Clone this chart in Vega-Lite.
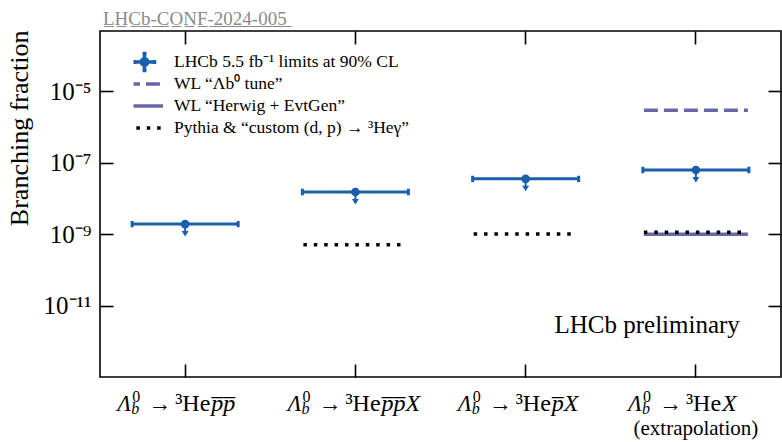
{
  "$schema": "https://vega.github.io/schema/vega-lite/v6.json",
  "width": 681,
  "height": 346,
  "autosize": "none",
  "padding": {"left": 100, "top": 31, "right": 1, "bottom": 65},
  "background": "white",
  "config": {
    "view": {"stroke": "black", "strokeWidth": 1.6},
    "font": "Liberation Serif",
    "axis": {"grid": false, "domain": false, "tickColor": "black", "tickWidth": 1.6, "tickSize": -13, "labelColor": "black", "labelFont": "Liberation Serif", "titleFont": "Liberation Serif", "titleColor": "black"}
  },
  "title": {
    "text": "L\u0332H\u0332C\u0332b\u0332-\u0332C\u0332O\u0332N\u0332F\u0332-\u03322\u03320\u03322\u03324\u0332-\u03320\u03320\u03325\u0332",
    "anchor": "start", "frame": "group", "fontSize": 19, "fontWeight": "normal",
    "color": "#8a8a8a", "font": "Liberation Serif", "offset": 7, "baseline": "alphabetic", "dx": 3, "dy": 21
  },
  "datasets": {
    "limits": [
      {"cat": "p\u0305p\u0305", "line2": "", "limit": 1.9e-9},
      {"cat": "p\u0305p\u0305X", "line2": "", "limit": 1.5e-8},
      {"cat": "p\u0305X", "line2": "", "limit": 3.5e-8},
      {"cat": "X", "line2": "(extrapolation)", "limit": 6.2e-8}
    ],
    "models": [
      {"cat": "p\u0305p\u0305X", "series": "Pythia & “custom (d, p) → ³Heγ”", "value": 5e-10},
      {"cat": "p\u0305X", "series": "Pythia & “custom (d, p) → ³Heγ”", "value": 1e-9},
      {"cat": "X", "series": "WL “Herwig + EvtGen”", "value": 9.8e-10},
      {"cat": "X", "series": "Pythia & “custom (d, p) → ³Heγ”", "value": 1.13e-9},
      {"cat": "X", "series": "WL “Λb⁰ tune”", "value": 2.9e-6}
    ]
  },
  "data": {"name": "limits"},
  "resolve": {"axis": {"x": "independent", "y": "independent"}},
  "layer": [
    {
      "data": {"name": "models"},
      "mark": {"type": "point", "filled": false, "size": 2548, "strokeWidth": 3.5, "strokeCap": "butt", "opacity": 1},
      "encoding": {
        "x": {"field": "cat", "type": "nominal", "sort": null,
              "scale": {"type": "band", "domain": ["p\u0305p\u0305", "p\u0305p\u0305X", "p\u0305X", "X"], "paddingInner": 0, "paddingOuter": 0},
              "axis": {"orient": "bottom", "labels": false, "title": null}},
        "y": {"field": "value", "type": "quantitative",
              "scale": {"type": "log", "domain": [1e-13, 4.8e-4], "nice": false},
              "axis": {"orient": "left", "values": [1e-5, 1e-7, 1e-9, 1e-11], "labelFontSize": 25, "labelPadding": 22,
                       "labelExpr": "datum.value > 5e-6 ? '10⁻⁵' : datum.value > 5e-8 ? '10⁻⁷' : datum.value > 5e-10 ? '10⁻⁹' : '10⁻¹¹'",
                       "title": "Branching fraction", "titleFontSize": 26, "titleFontWeight": "normal",
                       "titleX": -81, "titleY": -1, "titleAlign": "right", "titleBaseline": "middle", "titleAngle": -90}},
        "stroke": {"field": "series", "type": "nominal",
                   "scale": {"domain": ["LHCb 5.5 fb⁻¹ limits at 90% CL", "WL “Λb⁰ tune”", "WL “Herwig + EvtGen”", "Pythia & “custom (d, p) → ³Heγ”"],
                             "range": ["#1a5fad", "#6667a7", "#6667a7", "#000000"]},
                   "legend": {"title": null, "orient": "none", "legendX": 33.5, "legendY": 20, "labelFont": "Liberation Serif", "labelFontSize": 17.5, "labelColor": "black",
                              "symbolSize": 324, "symbolStrokeWidth": 3.5, "labelOffset": 18.5, "rowPadding": 0, "clipHeight": 22, "padding": 0, "labelLimit": 400, "symbolOpacity": 1}},
        "shape": {"field": "series", "type": "nominal",
                  "scale": {"domain": ["LHCb 5.5 fb⁻¹ limits at 90% CL", "WL “Λb⁰ tune”", "WL “Herwig + EvtGen”", "Pythia & “custom (d, p) → ³Heγ”"],
                            "range": ["M-1.11,0L1.11,0M0,-0.94L0,0.94M-1.11,-0.22L-1.11,0.22M1.11,-0.22L1.11,0.22M-0.22,-0.94L0.22,-0.94M-0.22,0.94L0.22,0.94M0.356,0A0.356,0.356,0,1,1,-0.356,0A0.356,0.356,0,1,1,0.356,0M0.144,0A0.144,0.144,0,1,1,-0.144,0A0.144,0.144,0,1,1,0.144,0",
                                      "M-2.06,0L2.06,0", "M-2.06,0L2.06,0", "M-2.06,0L2.06,0"]}},
        "strokeDash": {"field": "series", "type": "nominal",
                       "scale": {"domain": ["LHCb 5.5 fb⁻¹ limits at 90% CL", "WL “Λb⁰ tune”", "WL “Herwig + EvtGen”", "Pythia & “custom (d, p) → ³Heγ”"],
                                 "range": [[1, 0], [14, 6], [1, 0], [3.5, 6.9]]}}
      }
    },
    {
      "mark": {"type": "point", "filled": false, "shape": "M-1,-0.06L-1,0.06M-1,0L1,0M1,-0.06L1,0.06", "size": 11236, "stroke": "#1a5fad", "strokeWidth": 3, "opacity": 1},
      "encoding": {
        "x": {"field": "cat", "type": "nominal", "sort": null, "axis": {"orient": "top", "labels": false, "title": null}},
        "y": {"field": "limit", "type": "quantitative", "axis": {"orient": "right", "labels": false, "title": null, "values": [1e-5, 1e-7, 1e-9, 1e-11]}}
      }
    },
    {
      "mark": {"type": "point", "filled": true, "shape": "M-0.1,0L0.1,0L0.1,0.7L0.35,0.7L0,1.25L-0.35,0.7L-0.1,0.7Z", "size": 400, "fill": "#1a5fad", "strokeWidth": 0, "opacity": 1},
      "encoding": {
        "x": {"field": "cat", "type": "nominal", "sort": null, "axis": null},
        "y": {"field": "limit", "type": "quantitative", "axis": null}
      }
    },
    {
      "mark": {"type": "point", "filled": true, "shape": "circle", "size": 75, "fill": "#1a5fad", "opacity": 1},
      "encoding": {
        "x": {"field": "cat", "type": "nominal", "sort": null, "axis": null},
        "y": {"field": "limit", "type": "quantitative", "axis": null}
      }
    },
    {
      "mark": {"type": "text", "align": "left", "baseline": "alphabetic", "dx": -68, "dy": 34, "fontSize": 23, "fontStyle": "italic", "font": "Liberation Serif", "color": "black"},
      "encoding": {
        "x": {"field": "cat", "type": "nominal", "sort": null, "axis": null},
        "y": {"datum": 1e-13, "type": "quantitative", "axis": null},
        "text": {"value": "Λ"}
      }
    },
    {
      "mark": {"type": "text", "align": "left", "baseline": "alphabetic", "dx": -53, "dy": 25, "fontSize": 16, "font": "Liberation Serif", "color": "black"},
      "encoding": {
        "x": {"field": "cat", "type": "nominal", "sort": null, "axis": null},
        "y": {"datum": 1e-13, "type": "quantitative", "axis": null},
        "text": {"value": "0"}
      }
    },
    {
      "mark": {"type": "text", "align": "left", "baseline": "alphabetic", "dx": -54, "dy": 37, "fontSize": 16, "fontStyle": "italic", "font": "Liberation Serif", "color": "black"},
      "encoding": {
        "x": {"field": "cat", "type": "nominal", "sort": null, "axis": null},
        "y": {"datum": 1e-13, "type": "quantitative", "axis": null},
        "text": {"value": "b"}
      }
    },
    {
      "mark": {"type": "text", "align": "left", "baseline": "alphabetic", "dx": -37, "dy": 34, "fontSize": 23, "font": "Liberation Serif", "color": "black"},
      "encoding": {
        "x": {"field": "cat", "type": "nominal", "sort": null, "axis": null},
        "y": {"datum": 1e-13, "type": "quantitative", "axis": null},
        "text": {"value": "→"}
      }
    },
    {
      "mark": {"type": "text", "align": "left", "baseline": "alphabetic", "dx": -10, "dy": 34, "fontSize": 24, "font": "Liberation Serif", "color": "black"},
      "encoding": {
        "x": {"field": "cat", "type": "nominal", "sort": null, "axis": null},
        "y": {"datum": 1e-13, "type": "quantitative", "axis": null},
        "text": {"value": "³He"}
      }
    },
    {
      "mark": {"type": "text", "align": "left", "baseline": "alphabetic", "dx": 26, "dy": 34, "fontSize": 24, "fontStyle": "italic", "font": "Liberation Serif", "color": "black"},
      "encoding": {
        "x": {"field": "cat", "type": "nominal", "sort": null, "axis": null},
        "y": {"datum": 1e-13, "type": "quantitative", "axis": null},
        "text": {"field": "cat"}
      }
    },
    {
      "mark": {"type": "text", "align": "center", "baseline": "alphabetic", "dy": 58, "fontSize": 21, "font": "Liberation Serif", "color": "black"},
      "encoding": {
        "x": {"field": "cat", "type": "nominal", "sort": null, "axis": null},
        "y": {"datum": 1e-13, "type": "quantitative", "axis": null},
        "text": {"field": "line2"}
      }
    },
    {
      "data": {"values": [{"note": "LHCb preliminary"}]},
      "mark": {"type": "text", "align": "right", "baseline": "alphabetic", "dx": 44, "fontSize": 25, "font": "Liberation Serif", "color": "black"},
      "encoding": {
        "x": {"datum": "X", "type": "nominal", "axis": null},
        "y": {"datum": 1.75e-12, "type": "quantitative", "axis": null},
        "text": {"field": "note"}
      }
    }
  ]
}
